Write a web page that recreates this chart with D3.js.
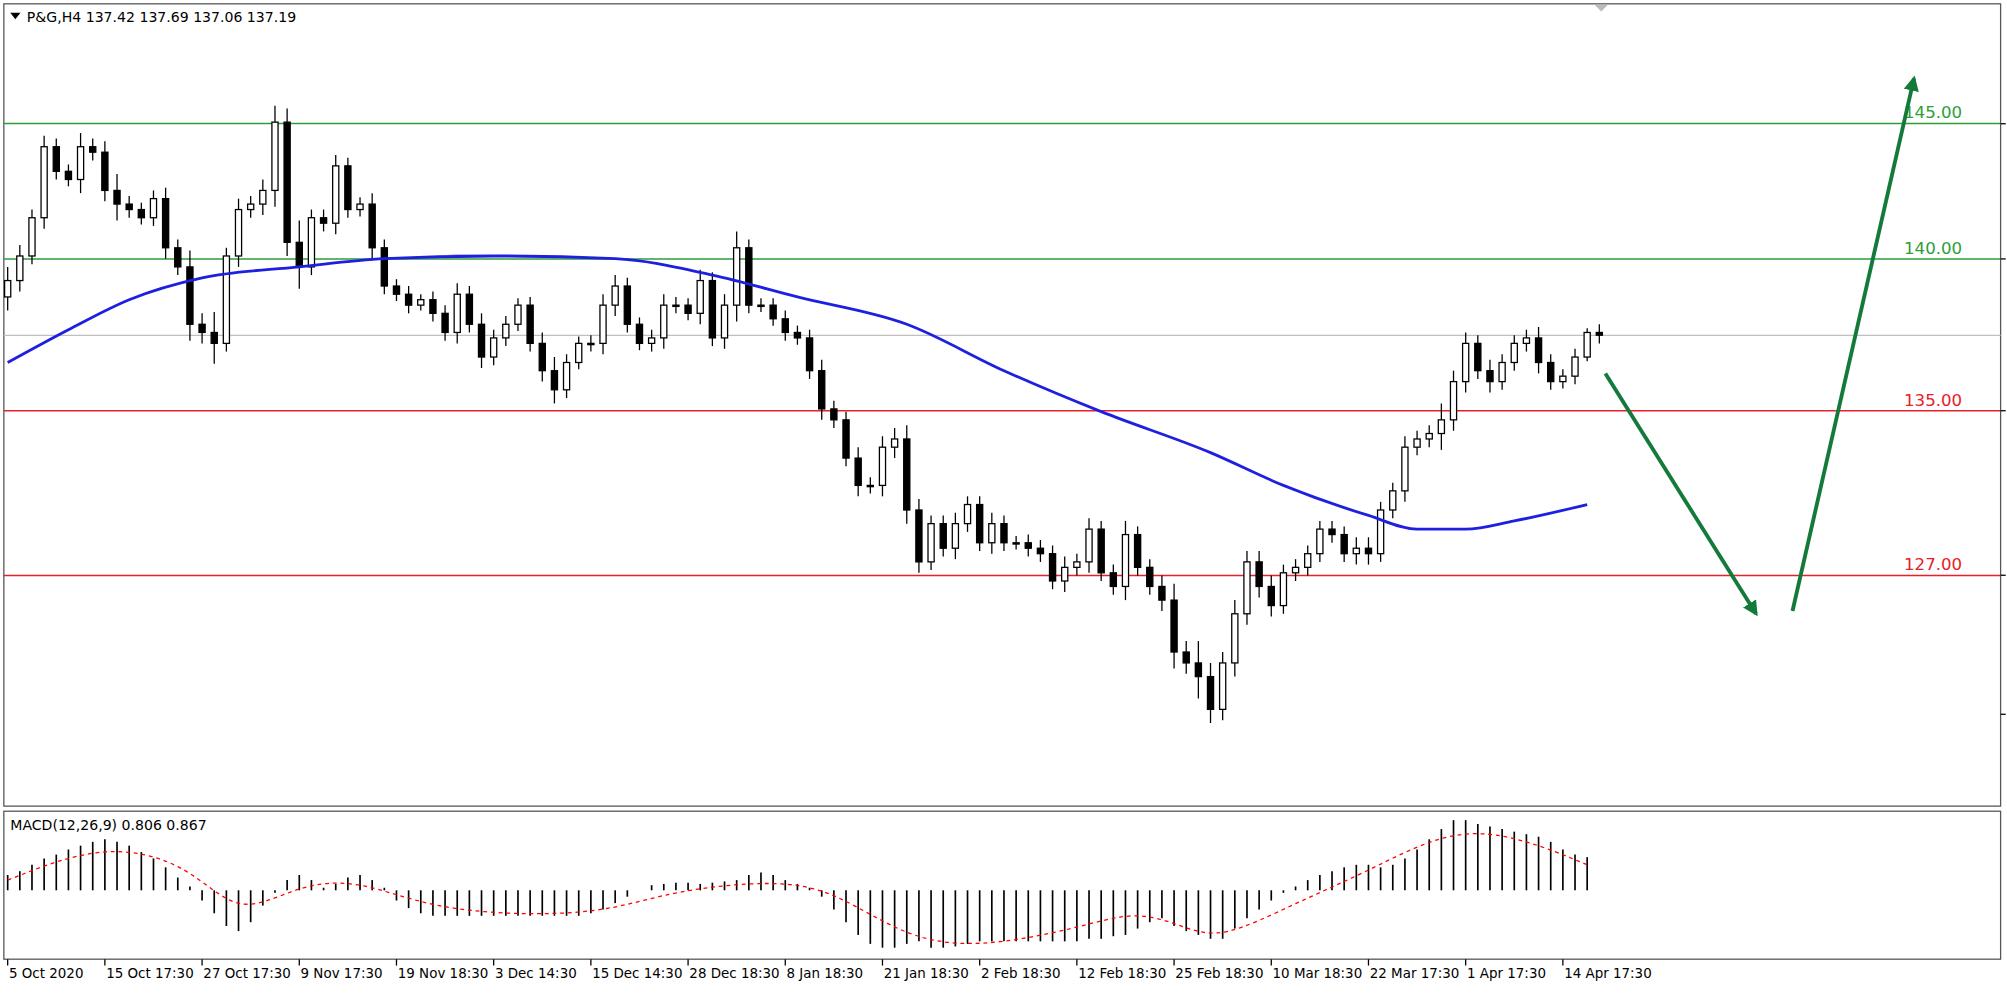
<!DOCTYPE html>
<html><head><meta charset="utf-8">
<script src="https://cdn.jsdelivr.net/npm/d3@7"></script>
<style>body{margin:0;background:#fff}text{font-family:"DejaVu Sans",sans-serif}</style>
</head><body>
<script>
// closes (open = previous close)
const closes = [139.2,140.1,141.5,144.1,143.2,142.9,144.1,143.9,142.5,142.0,141.8,141.5,142.2,140.4,139.7,137.6,137.3,136.9,140.1,141.8,142.0,142.5,145.0,140.6,139.7,141.5,141.3,143.4,141.8,142.0,140.4,139.0,138.7,138.3,138.5,138.0,137.3,138.7,137.6,136.4,137.1,137.6,138.3,136.9,135.9,135.2,136.2,136.9,136.9,138.3,139.0,137.6,136.9,137.1,138.3,138.3,138.0,139.2,137.1,138.3,140.4,138.3,138.3,137.8,137.3,137.1,135.9,134.5,134.1,132.7,131.7,131.7,133.1,133.4,130.8,128.9,130.3,129.4,130.3,131.0,129.6,130.3,129.6,129.6,129.4,129.2,128.2,128.7,128.9,130.1,128.5,128.0,129.9,128.7,128.0,127.5,125.6,125.2,124.7,123.5,125.2,127.0,128.9,128.0,127.3,128.5,128.7,129.2,130.1,129.9,129.2,129.4,129.2,130.8,131.5,133.1,133.4,133.6,134.1,135.5,136.9,135.9,135.5,136.2,136.9,137.1,136.2,135.5,135.7,136.4,137.3,137.2];
const firstOpen = 138.6;
// extra wick length per candle
const wicks = [1.0,0.8,0.6,0.8,0.6,0.5,1.0,0.6,0.8,1.2,0.6,0.5,0.6,0.8,0.6,1.2,0.8,1.5,0.6,0.8,0.6,0.8,1.2,1.0,1.6,0.6,0.6,0.8,0.6,0.5,0.8,0.6,0.5,0.6,0.4,0.6,0.6,0.8,0.6,0.8,0.6,0.6,0.5,0.6,0.8,1.0,0.6,0.5,0.6,0.8,0.8,0.6,0.5,0.6,0.8,0.6,0.5,0.8,0.6,0.8,1.2,0.6,0.5,0.5,0.6,0.5,0.6,0.8,0.6,0.6,0.8,0.6,0.8,0.8,1.0,0.8,0.6,0.6,0.8,0.6,0.6,0.8,0.6,0.5,0.6,0.6,0.6,0.8,0.6,0.8,0.6,0.6,1.0,0.6,0.6,0.8,1.2,0.8,1.6,1.0,0.8,1.0,0.8,0.8,0.8,0.6,0.6,0.6,0.6,0.6,0.6,0.8,0.8,0.6,0.6,0.8,0.6,0.6,1.2,0.8,0.8,0.6,0.8,0.6,0.6,0.6,0.8,0.6,0.5,0.6,0.3];
const maIdx = [0,5,10,16,24,31,40,50,58,65,74,82,90,99,105,112,116,120,124,130];
const maVal = [136.2,137.4,138.5,139.3,139.7,140.0,140.1,140.0,139.4,138.6,137.6,135.9,134.4,132.9,131.7,130.6,130.1,130.1,130.4,131.0];
const macd = [12,15,20,25,28,32,35,38,40,38,35,30,25,18,10,3,-8,-18,-28,-32,-25,-12,-2,8,12,8,2,5,10,12,8,2,-8,-14,-18,-20,-20,-20,-20,-20,-20,-20,-20,-20,-20,-20,-20,-20,-18,-15,-10,-5,0,4,5,6,6,5,6,7,8,12,14,12,8,5,2,-5,-15,-25,-35,-42,-45,-45,-42,-40,-45,-45,-44,-42,-40,-40,-40,-40,-40,-40,-40,-40,-40,-38,-38,-36,-35,-30,-25,-22,-28,-32,-35,-38,-38,-30,-22,-15,-8,-2,3,8,12,15,18,20,20,18,20,25,32,40,48,55,55,52,50,48,46,44,42,38,32,28,26];
const sigIdx = [0,8,15,19,24,29,35,44,50,55,63,68,74,80,88,93,97,100,106,112,119,125,130];
const sigVal = [8,38,20,-22,5,8,-15,-20,-15,0,8,0,-38,-45,-30,-15,-30,-38,-10,15,50,40,20];
const levels = [144.95,139.99,134.43,128.4];
const levelLabels = ["145.00","140.00","135.00","127.00"];
const levelColors = ["#2e9e3a","#2e9e3a","#e8202a","#e8202a"];
const lastPrice = 137.19;
const dateLabels = ["5 Oct 2020","15 Oct 17:30","27 Oct 17:30","9 Nov 17:30","19 Nov 18:30","3 Dec 14:30","15 Dec 14:30","28 Dec 18:30","8 Jan 18:30","21 Jan 18:30","2 Feb 18:30","12 Feb 18:30","25 Feb 18:30","10 Mar 18:30","22 Mar 17:30","1 Apr 17:30","14 Apr 17:30"];
const arrows = [[[131.5,135.8],[143.9,127.0]],[[146.9,127.1],[156.9,146.6]]];

const W = 1568, H = 784;
const svg = d3.select("body").append("svg")
  .attr("width", 2007).attr("height", 1000)
  .attr("viewBox", `0 0 ${W} ${H}`).attr("preserveAspectRatio", "none");

const x = d3.scaleLinear().domain([0, 130]).range([6, 1240]);
const y = d3.scaleLinear().domain([137.19, 127.85]).range([263, 463]);
const ym = d3.scaleLinear().domain([-54, 62]).range([752, 636]);

// frames
svg.append("rect").attr("x", 3).attr("y", 3).attr("width", 1560).attr("height", 629)
  .attr("fill", "none").attr("stroke", "#555");
svg.append("rect").attr("x", 3).attr("y", 636).attr("width", 1560).attr("height", 116)
  .attr("fill", "none").attr("stroke", "#555");

const main = svg.append("g");
levels.forEach((v, i) => {
  main.append("line").attr("x1", 3).attr("x2", 1563).attr("y1", y(v)).attr("y2", y(v))
    .attr("stroke", levelColors[i]).attr("stroke-width", 1.2);
  main.append("text").attr("x", 1533).attr("y", y(v) - 4).attr("text-anchor", "end")
    .attr("font-size", 13).attr("fill", levelColors[i]).text(levelLabels[i]);
});
main.append("line").attr("x1", 3).attr("x2", 1563).attr("y1", y(lastPrice)).attr("y2", y(lastPrice))
  .attr("stroke", "#c0c0c0");

// candles
const candles = closes.map((c, i) => {
  const o = i ? closes[i - 1] : firstOpen;
  const w = wicks[i] ?? 0.6;
  return {i, o, c, h: Math.max(o, c) + w * 0.5, l: Math.min(o, c) - w * 0.5};
});
const cg = main.append("g");
cg.selectAll("line").data(candles).join("line")
  .attr("x1", d => x(d.i)).attr("x2", d => x(d.i))
  .attr("y1", d => y(d.h)).attr("y2", d => y(d.l)).attr("stroke", "#000");
cg.selectAll("rect").data(candles).join("rect")
  .attr("x", d => x(d.i) - 2.4).attr("width", 4.8)
  .attr("y", d => y(Math.max(d.o, d.c)))
  .attr("height", d => Math.max(1, Math.abs(y(d.o) - y(d.c))))
  .attr("fill", d => d.c >= d.o ? "#fff" : "#000").attr("stroke", "#000");

// moving average
main.append("path").datum(maIdx.map((d, i) => [d, maVal[i]]))
  .attr("d", d3.line().x(d => x(d[0])).y(d => y(d[1])).curve(d3.curveMonotoneX))
  .attr("fill", "none").attr("stroke", "#1f1fe0").attr("stroke-width", 2.2);

// arrows
svg.append("defs").append("marker").attr("id", "ah").attr("viewBox", "0 0 10 10")
  .attr("refX", 8).attr("refY", 5).attr("markerWidth", 4).attr("markerHeight", 4).attr("orient", "auto")
  .append("path").attr("d", "M0,0L10,5L0,10Z").attr("fill", "#137a3a");
arrows.forEach(a => {
  main.append("line").attr("x1", x(a[0][0])).attr("y1", y(a[0][1]))
    .attr("x2", x(a[1][0])).attr("y2", y(a[1][1]))
    .attr("stroke", "#137a3a").attr("stroke-width", 3).attr("marker-end", "url(#ah)");
});

main.append("path").attr("d", "M8,10L16,10L12,15Z").attr("fill", "#000");
main.append("text").attr("x", 21).attr("y", 17).attr("font-size", 11)
  .text("P&G,H4  137.42 137.69 137.06 137.19");
main.append("path").attr("d", "M1246,4L1256,4L1251,9Z").attr("fill", "#bbb");

// MACD
const mg = svg.append("g");
mg.selectAll("line").data(macd).join("line")
  .attr("x1", (d, i) => x(i)).attr("x2", (d, i) => x(i))
  .attr("y1", ym(0)).attr("y2", d => ym(d)).attr("stroke", "#000").attr("stroke-width", 1.3);
mg.append("path").datum(sigIdx.map((d, i) => [d, sigVal[i]]))
  .attr("d", d3.line().x(d => x(d[0])).y(d => ym(d[1])).curve(d3.curveBasis))
  .attr("fill", "none").attr("stroke", "#f00").attr("stroke-dasharray", "3,3");
mg.append("text").attr("x", 8).attr("y", 651).attr("font-size", 11).text("MACD(12,26,9) 0.806 0.867");

// date axis
const dg = svg.append("g");
dateLabels.forEach((t, k) => {
  const xi = x(k * 8);
  dg.append("line").attr("x1", xi).attr("x2", xi).attr("y1", 752).attr("y2", 757).attr("stroke", "#000");
  dg.append("text").attr("x", xi + 1).attr("y", 767).attr("font-size", 10.5).text(t);
});
// right price ticks
[97, 203, 322, 451, 560].forEach(v => {
  svg.append("line").attr("x1", 1563).attr("x2", 1567).attr("y1", v).attr("y2", v).attr("stroke", "#000");
});
</script>
</body></html>
